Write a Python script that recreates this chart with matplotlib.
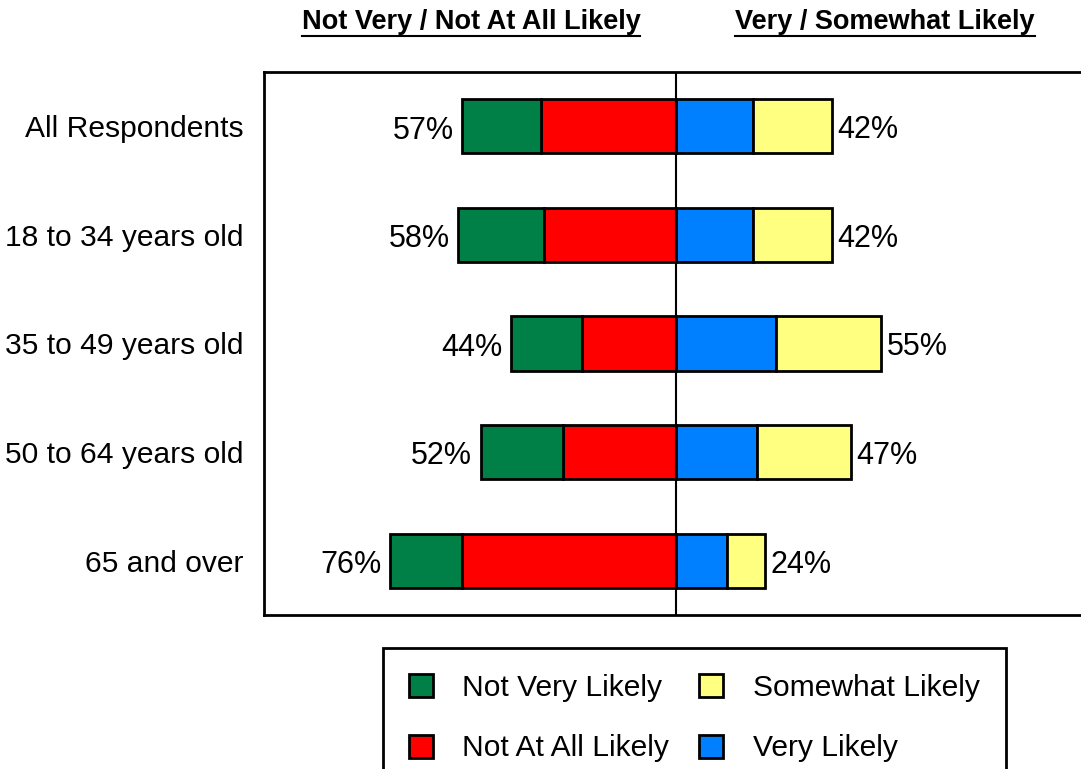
import numpy as np
import matplotlib
matplotlib.use("Agg")
import matplotlib.pyplot as plt
from matplotlib.patches import Patch
from matplotlib.lines import Line2D

plt.rcParams['font.family'] = ['Liberation Sans', 'DejaVu Sans']

# données (en %)
categories = ["All Respondents", "18 to 34 years old", "35 to 49 years old",
              "50 to 64 years old", "65 and over"]
not_very = [21, 23, 19, 22, 19]
not_at_all = [36, 35, 25, 30, 57]
very = [20.5, 20.5, 26.6, 21.5, 13.6]
somewhat = [21, 21, 28, 25, 10]
neg_labels = ["57%", "58%", "44%", "52%", "76%"]
pos_labels = ["42%", "42%", "55%", "47%", "24%"]

c_green = "#008046"
c_red = "#FF0000"
c_blue = "#0080FF"
c_yellow = "#FFFF80"

W, H = 1081, 769
fig = plt.figure(figsize=(W / 100, H / 100), dpi=100)
ax = fig.add_axes([264 / W, 154 / H, (W - 264) / W, 543 / H])

y = np.arange(len(categories))
nv = np.array(not_very)
na = np.array(not_at_all)
vl = np.array(very)
sw = np.array(somewhat)

kw = dict(height=0.5, edgecolor="black", linewidth=2, zorder=3)
ax.barh(y, -na, left=0, color=c_red, **kw)
ax.barh(y, -nv, left=-na, color=c_green, **kw)
ax.barh(y, vl, left=0, color=c_blue, **kw)
ax.barh(y, sw, left=vl, color=c_yellow, **kw)

fs = 21.6
for i in range(len(categories)):
    ax.text(-(nv[i] + na[i]) - 2.2, y[i] + 0.04, neg_labels[i], ha="right", va="center", fontsize=22)
    ax.text(vl[i] + sw[i] + 1.4, y[i] + 0.035, pos_labels[i], ha="left", va="center", fontsize=22)

ax.axvline(0, color="black", linewidth=1.5, zorder=4)

ax.set_xlim(-109.6, 107.7)
ax.set_ylim(len(categories) - 0.5, -0.5)
ax.set_yticks(y)
ax.set_yticklabels(categories, fontsize=fs)
ax.tick_params(axis="y", length=0, pad=15)
ax.set_xticks([])
ax.spines["right"].set_visible(False)
for s in ["left", "top", "bottom"]:
    ax.spines[s].set_linewidth(2)

# titres soulignés
t1 = fig.text(471 / W, 1 - 22 / H, "Not Very / Not At All Likely", ha="center", va="center",
              fontsize=19.5, fontweight="bold")
t2 = fig.text(885 / W, 1 - 22 / H, "Very / Somewhat Likely", ha="center", va="center",
              fontsize=19.5, fontweight="bold")
fig.canvas.draw()
r = fig.canvas.get_renderer()
for t in (t1, t2):
    bb = t.get_window_extent(r)
    yl = 1 - 36 / H
    fig.add_artist(Line2D([bb.x0 / W, bb.x1 / W], [yl, yl], color="black",
                          linewidth=1.5, transform=fig.transFigure))

# légende
handles = [Patch(facecolor=c_green, edgecolor="black", linewidth=2, label="Not Very Likely"),
           Patch(facecolor=c_red, edgecolor="black", linewidth=2, label="Not At All Likely"),
           Patch(facecolor=c_yellow, edgecolor="black", linewidth=2, label="Somewhat Likely"),
           Patch(facecolor=c_blue, edgecolor="black", linewidth=2, label="Very Likely")]
leg = fig.legend(handles=handles, ncol=2, loc="upper left",
                 bbox_to_anchor=(383 / W, 1 - 648 / H), fontsize=fs,
                 frameon=True, fancybox=False, edgecolor="black", framealpha=1,
                 handlelength=0.8, handleheight=0.8, handletextpad=1.0,
                 columnspacing=1.0, labelspacing=1.1, borderpad=0.85,
                 borderaxespad=0)
leg.get_frame().set_linewidth(2)

fig.savefig("out.png", dpi=100)
